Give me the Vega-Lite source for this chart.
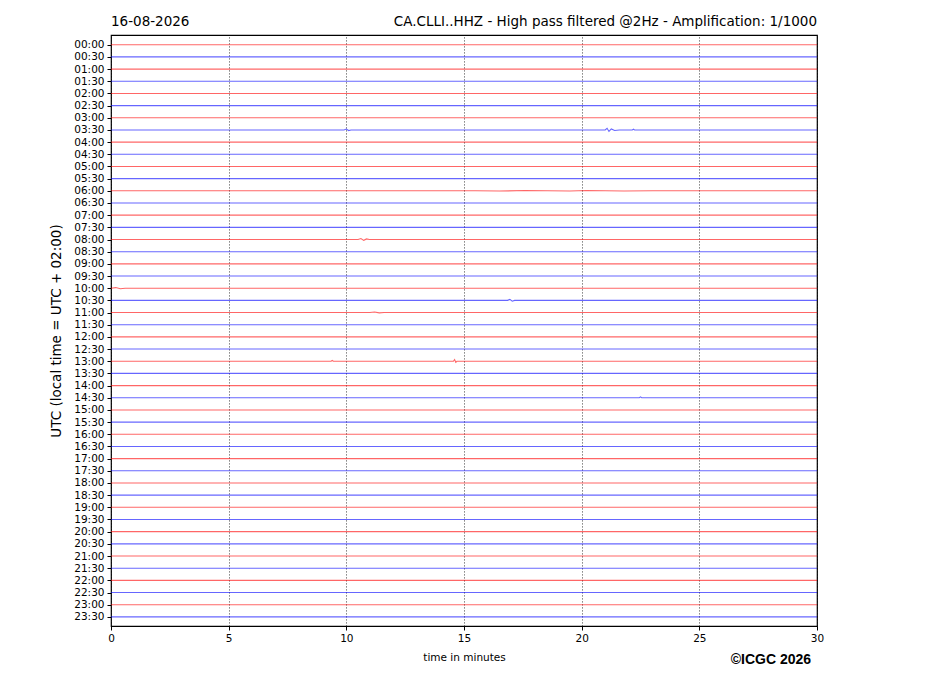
{
  "$schema": "https://vega.github.io/schema/vega-lite/v6.json",
  "autosize": {"type": "none"},
  "width": 706,
  "height": 591,
  "padding": {"left": 111, "top": 35, "right": 110, "bottom": 70},
  "background": "white",
  "config": {
    "font": "DejaVu Sans",
    "view": {"stroke": "black", "strokeWidth": 1.2},
    "axis": {"labelFont": "DejaVu Sans", "titleFont": "DejaVu Sans", "labelColor": "black", "titleColor": "black", "tickColor": "black", "domain": false, "titleFontWeight": "normal", "labelOverlap": false}
  },
  "datasets": {
    "traces": [
      {"trace": 0, "t": 0, "y": 0, "kind": "hour"}, {"trace": 0, "t": 30, "y": 0, "kind": "hour"},
      {"trace": 1, "t": 0, "y": 1, "kind": "half"}, {"trace": 1, "t": 30, "y": 1, "kind": "half"},
      {"trace": 2, "t": 0, "y": 2, "kind": "hour"}, {"trace": 2, "t": 30, "y": 2, "kind": "hour"},
      {"trace": 3, "t": 0, "y": 3, "kind": "half"}, {"trace": 3, "t": 30, "y": 3, "kind": "half"},
      {"trace": 4, "t": 0, "y": 4, "kind": "hour"}, {"trace": 4, "t": 30, "y": 4, "kind": "hour"},
      {"trace": 5, "t": 0, "y": 5, "kind": "half"}, {"trace": 5, "t": 30, "y": 5, "kind": "half"},
      {"trace": 6, "t": 0, "y": 6, "kind": "hour"}, {"trace": 6, "t": 30, "y": 6, "kind": "hour"},
      {"trace": 7, "t": 0, "y": 7, "kind": "half"},
      {"trace": 7, "t": 9.9, "y": 7, "kind": "half"}, {"trace": 7, "t": 10.0, "y": 6.93, "kind": "half"}, {"trace": 7, "t": 10.1, "y": 7.05, "kind": "half"}, {"trace": 7, "t": 10.2, "y": 7, "kind": "half"},
      {"trace": 7, "t": 21.0, "y": 7, "kind": "half"}, {"trace": 7, "t": 21.08, "y": 6.86, "kind": "half"}, {"trace": 7, "t": 21.16, "y": 7.12, "kind": "half"}, {"trace": 7, "t": 21.26, "y": 6.92, "kind": "half"}, {"trace": 7, "t": 21.4, "y": 7.05, "kind": "half"}, {"trace": 7, "t": 21.6, "y": 7, "kind": "half"},
      {"trace": 7, "t": 22.15, "y": 7, "kind": "half"}, {"trace": 7, "t": 22.2, "y": 6.94, "kind": "half"}, {"trace": 7, "t": 22.25, "y": 7, "kind": "half"},
      {"trace": 7, "t": 30, "y": 7, "kind": "half"},
      {"trace": 8, "t": 0, "y": 8, "kind": "hour"}, {"trace": 8, "t": 30, "y": 8, "kind": "hour"},
      {"trace": 9, "t": 0, "y": 9, "kind": "half"}, {"trace": 9, "t": 30, "y": 9, "kind": "half"},
      {"trace": 10, "t": 0, "y": 10, "kind": "hour"}, {"trace": 10, "t": 30, "y": 10, "kind": "hour"},
      {"trace": 11, "t": 0, "y": 11, "kind": "half"}, {"trace": 11, "t": 30, "y": 11, "kind": "half"},
      {"trace": 12, "t": 0, "y": 12, "kind": "hour"},
      {"trace": 12, "t": 15.5, "y": 12, "kind": "hour"}, {"trace": 12, "t": 16.5, "y": 12.02, "kind": "hour"}, {"trace": 12, "t": 17.6, "y": 11.98, "kind": "hour"}, {"trace": 12, "t": 19.5, "y": 12.02, "kind": "hour"}, {"trace": 12, "t": 20.2, "y": 11.98, "kind": "hour"}, {"trace": 12, "t": 21.8, "y": 12.02, "kind": "hour"}, {"trace": 12, "t": 23, "y": 12, "kind": "hour"},
      {"trace": 12, "t": 30, "y": 12, "kind": "hour"},
      {"trace": 13, "t": 0, "y": 13, "kind": "half"}, {"trace": 13, "t": 30, "y": 13, "kind": "half"},
      {"trace": 14, "t": 0, "y": 14, "kind": "hour"}, {"trace": 14, "t": 30, "y": 14, "kind": "hour"},
      {"trace": 15, "t": 0, "y": 15, "kind": "half"}, {"trace": 15, "t": 30, "y": 15, "kind": "half"},
      {"trace": 16, "t": 0, "y": 16, "kind": "hour"},
      {"trace": 16, "t": 10.5, "y": 16, "kind": "hour"}, {"trace": 16, "t": 10.62, "y": 15.92, "kind": "hour"}, {"trace": 16, "t": 10.74, "y": 16.07, "kind": "hour"}, {"trace": 16, "t": 10.86, "y": 15.95, "kind": "hour"}, {"trace": 16, "t": 10.98, "y": 16, "kind": "hour"},
      {"trace": 16, "t": 30, "y": 16, "kind": "hour"},
      {"trace": 17, "t": 0, "y": 17, "kind": "half"}, {"trace": 17, "t": 30, "y": 17, "kind": "half"},
      {"trace": 18, "t": 0, "y": 18, "kind": "hour"}, {"trace": 18, "t": 30, "y": 18, "kind": "hour"},
      {"trace": 19, "t": 0, "y": 19, "kind": "half"}, {"trace": 19, "t": 30, "y": 19, "kind": "half"},
      {"trace": 20, "t": 0, "y": 20, "kind": "hour"}, {"trace": 20, "t": 0.2, "y": 19.95, "kind": "hour"}, {"trace": 20, "t": 0.4, "y": 20.05, "kind": "hour"}, {"trace": 20, "t": 0.6, "y": 20, "kind": "hour"}, {"trace": 20, "t": 30, "y": 20, "kind": "hour"},
      {"trace": 21, "t": 0, "y": 21, "kind": "half"},
      {"trace": 21, "t": 16.85, "y": 21, "kind": "half"}, {"trace": 21, "t": 16.95, "y": 20.92, "kind": "half"}, {"trace": 21, "t": 17.05, "y": 21.07, "kind": "half"}, {"trace": 21, "t": 17.15, "y": 21, "kind": "half"},
      {"trace": 21, "t": 30, "y": 21, "kind": "half"},
      {"trace": 22, "t": 0, "y": 22, "kind": "hour"},
      {"trace": 22, "t": 11.0, "y": 22, "kind": "hour"}, {"trace": 22, "t": 11.2, "y": 21.96, "kind": "hour"}, {"trace": 22, "t": 11.4, "y": 22.03, "kind": "hour"}, {"trace": 22, "t": 11.6, "y": 22, "kind": "hour"},
      {"trace": 22, "t": 30, "y": 22, "kind": "hour"},
      {"trace": 23, "t": 0, "y": 23, "kind": "half"}, {"trace": 23, "t": 30, "y": 23, "kind": "half"},
      {"trace": 24, "t": 0, "y": 24, "kind": "hour"}, {"trace": 24, "t": 30, "y": 24, "kind": "hour"},
      {"trace": 25, "t": 0, "y": 25, "kind": "half"}, {"trace": 25, "t": 30, "y": 25, "kind": "half"},
      {"trace": 26, "t": 0, "y": 26, "kind": "hour"},
      {"trace": 26, "t": 9.35, "y": 26, "kind": "hour"}, {"trace": 26, "t": 9.4, "y": 25.94, "kind": "hour"}, {"trace": 26, "t": 9.45, "y": 26, "kind": "hour"},
      {"trace": 26, "t": 14.55, "y": 26, "kind": "hour"}, {"trace": 26, "t": 14.6, "y": 25.86, "kind": "hour"}, {"trace": 26, "t": 14.65, "y": 26.09, "kind": "hour"}, {"trace": 26, "t": 14.7, "y": 26, "kind": "hour"},
      {"trace": 26, "t": 30, "y": 26, "kind": "hour"},
      {"trace": 27, "t": 0, "y": 27, "kind": "half"}, {"trace": 27, "t": 30, "y": 27, "kind": "half"},
      {"trace": 28, "t": 0, "y": 28, "kind": "hour"}, {"trace": 28, "t": 30, "y": 28, "kind": "hour"},
      {"trace": 29, "t": 0, "y": 29, "kind": "half"},
      {"trace": 29, "t": 22.45, "y": 29, "kind": "half"}, {"trace": 29, "t": 22.5, "y": 28.93, "kind": "half"}, {"trace": 29, "t": 22.55, "y": 29, "kind": "half"},
      {"trace": 29, "t": 30, "y": 29, "kind": "half"},
      {"trace": 30, "t": 0, "y": 30, "kind": "hour"}, {"trace": 30, "t": 30, "y": 30, "kind": "hour"},
      {"trace": 31, "t": 0, "y": 31, "kind": "half"}, {"trace": 31, "t": 30, "y": 31, "kind": "half"},
      {"trace": 32, "t": 0, "y": 32, "kind": "hour"}, {"trace": 32, "t": 30, "y": 32, "kind": "hour"},
      {"trace": 33, "t": 0, "y": 33, "kind": "half"}, {"trace": 33, "t": 30, "y": 33, "kind": "half"},
      {"trace": 34, "t": 0, "y": 34, "kind": "hour"}, {"trace": 34, "t": 30, "y": 34, "kind": "hour"},
      {"trace": 35, "t": 0, "y": 35, "kind": "half"}, {"trace": 35, "t": 30, "y": 35, "kind": "half"},
      {"trace": 36, "t": 0, "y": 36, "kind": "hour"}, {"trace": 36, "t": 30, "y": 36, "kind": "hour"},
      {"trace": 37, "t": 0, "y": 37, "kind": "half"}, {"trace": 37, "t": 30, "y": 37, "kind": "half"},
      {"trace": 38, "t": 0, "y": 38, "kind": "hour"}, {"trace": 38, "t": 30, "y": 38, "kind": "hour"},
      {"trace": 39, "t": 0, "y": 39, "kind": "half"}, {"trace": 39, "t": 30, "y": 39, "kind": "half"},
      {"trace": 40, "t": 0, "y": 40, "kind": "hour"}, {"trace": 40, "t": 30, "y": 40, "kind": "hour"},
      {"trace": 41, "t": 0, "y": 41, "kind": "half"}, {"trace": 41, "t": 30, "y": 41, "kind": "half"},
      {"trace": 42, "t": 0, "y": 42, "kind": "hour"}, {"trace": 42, "t": 30, "y": 42, "kind": "hour"},
      {"trace": 43, "t": 0, "y": 43, "kind": "half"}, {"trace": 43, "t": 30, "y": 43, "kind": "half"},
      {"trace": 44, "t": 0, "y": 44, "kind": "hour"}, {"trace": 44, "t": 30, "y": 44, "kind": "hour"},
      {"trace": 45, "t": 0, "y": 45, "kind": "half"}, {"trace": 45, "t": 30, "y": 45, "kind": "half"},
      {"trace": 46, "t": 0, "y": 46, "kind": "hour"}, {"trace": 46, "t": 30, "y": 46, "kind": "hour"},
      {"trace": 47, "t": 0, "y": 47, "kind": "half"}, {"trace": 47, "t": 30, "y": 47, "kind": "half"}
    ],
    "notes": [
      {"text": "16-08-2026", "t": 0, "y": -1.55, "pos": "topleft"},
      {"text": "CA.CLLI..HHZ - High pass filtered @2Hz - Amplification: 1/1000", "t": 30, "y": -1.55, "pos": "topright"},
      {"text": "©ICGC 2026", "t": 29.75, "y": 50.85, "pos": "bottomright"}
    ]
  },
  "layer": [
    {
      "data": {"name": "traces"},
      "mark": {"type": "line", "strokeWidth": 1.1, "opacity": 0.6, "clip": true},
      "encoding": {
        "x": {
          "field": "t", "type": "quantitative",
          "scale": {"domain": [0, 30], "nice": false, "zero": false},
          "axis": {
            "values": [0, 5, 10, 15, 20, 25, 30],
            "tickCount": 7,
            "title": "time in minutes",
            "titleFontSize": 10.5,
            "titlePadding": 9,
            "labelFontSize": 10.5,
            "labelPadding": 3,
            "tickSize": 4,
            "labelFlush": false,
            "grid": true,
            "gridColor": "black",
            "gridDash": [1.2, 1.8],
            "gridWidth": 0.8,
            "gridOpacity": 0.8
          }
        },
        "y": {
          "field": "y", "type": "quantitative",
          "scale": {"domain": [-0.8, 47.75], "reverse": true, "nice": false, "zero": false},
          "axis": {
            "values": [0,1,2,3,4,5,6,7,8,9,10,11,12,13,14,15,16,17,18,19,20,21,22,23,24,25,26,27,28,29,30,31,32,33,34,35,36,37,38,39,40,41,42,43,44,45,46,47],
            "tickCount": 48,
            "labelExpr": "(datum.value < 20 ? '0' : '') + floor(datum.value / 2) + (datum.value % 2 ? ':30' : ':00')",
            "title": "UTC (local time = UTC + 02:00)",
            "titleFontSize": 13.5,
            "titlePadding": 10,
            "labelFontSize": 10.5,
            "labelPadding": 3,
            "tickSize": 4,
            "labelFlush": false,
            "labelOverlap": false,
            "grid": false
          }
        },
        "detail": {"field": "trace", "type": "nominal"},
        "color": {
          "field": "kind", "type": "nominal",
          "scale": {"domain": ["hour", "half"], "range": ["#ff0000", "#0000ff"]},
          "legend": null
        }
      }
    },
    {
      "data": {"name": "notes"},
      "transform": [{"filter": "datum.pos == 'topleft'"}],
      "mark": {"type": "text", "align": "left", "baseline": "alphabetic", "fontSize": 13.5, "font": "DejaVu Sans", "color": "black"},
      "encoding": {
        "x": {"field": "t", "type": "quantitative"},
        "y": {"field": "y", "type": "quantitative"},
        "text": {"field": "text"}
      }
    },
    {
      "data": {"name": "notes"},
      "transform": [{"filter": "datum.pos == 'topright'"}],
      "mark": {"type": "text", "align": "right", "baseline": "alphabetic", "fontSize": 13.5, "font": "DejaVu Sans", "color": "black"},
      "encoding": {
        "x": {"field": "t", "type": "quantitative"},
        "y": {"field": "y", "type": "quantitative"},
        "text": {"field": "text"}
      }
    },
    {
      "data": {"name": "notes"},
      "transform": [{"filter": "datum.pos == 'bottomright'"}],
      "mark": {"type": "text", "align": "right", "baseline": "alphabetic", "fontSize": 14, "font": "Liberation Sans", "fontWeight": "bold", "color": "black"},
      "encoding": {
        "x": {"field": "t", "type": "quantitative"},
        "y": {"field": "y", "type": "quantitative"},
        "text": {"field": "text"}
      }
    }
  ]
}
